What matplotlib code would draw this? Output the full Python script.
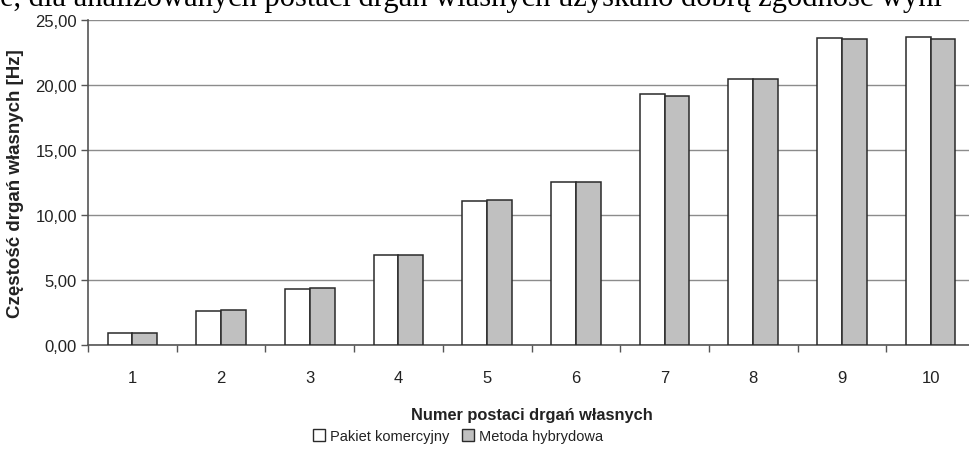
import matplotlib
matplotlib.use("Agg")
import matplotlib.pyplot as plt
from matplotlib.patches import Patch
from matplotlib.ticker import FuncFormatter, MultipleLocator
import numpy as np

# natural frequencies for the first ten mode shapes
modes = ["1", "2", "3", "4", "5", "6", "7", "8", "9", "10"]
pakiet_komercyjny = [0.90, 2.62, 4.32, 6.92, 11.10, 12.52, 19.28, 20.45, 23.64, 23.68]
metoda_hybrydowa = [0.95, 2.68, 4.40, 6.92, 11.17, 12.52, 19.18, 20.45, 23.52, 23.56]

series_names = ["Pakiet komercyjny", "Metoda hybrydowa"]
caption = "e, dla analizowanych postaci drgań własnych uzyskano dobrą zgodność wyni"

plt.rcParams['font.family'] = ['Liberation Sans', 'DejaVu Sans']
text_col = "#222222"

W, H = 970, 452
fig = plt.figure(figsize=(W / 100, H / 100), dpi=100)
ax = fig.add_axes([88 / W, (H - 346) / H, 887 / W, (346 - 21) / H])

x = np.arange(len(modes))
bw = 0.28
ax.bar(x - bw / 2, pakiet_komercyjny, width=bw, color="white",
       edgecolor="#2a2a2a", linewidth=1.1, zorder=3)
ax.bar(x + bw / 2, metoda_hybrydowa, width=bw, color="#c0c0c0",
       edgecolor="#2a2a2a", linewidth=1.1, zorder=3)

ax.set_xlim(-0.5, len(modes) - 0.5)
ax.set_ylim(0, 25)
ax.yaxis.set_major_locator(MultipleLocator(5))
ax.yaxis.set_major_formatter(FuncFormatter(lambda v, p: f"{v:.2f}".replace(".", ",")))
ax.grid(axis="y", color="#8c8c8c", linewidth=1.0, zorder=0)

ax.set_xticks(x)
ax.set_xticklabels(modes)
ax.set_xticks(np.arange(-0.5, len(modes), 1.0), minor=True)
ax.tick_params(axis="x", which="major", length=0, pad=18, labelsize=12, labelcolor=text_col)
ax.tick_params(axis="x", which="minor", length=5, width=1, color="#555555")
ax.tick_params(axis="y", length=5, width=1, color="#555555", pad=3,
               labelsize=12, labelcolor=text_col)

for side in ("top", "right"):
    ax.spines[side].set_visible(False)
for side in ("left", "bottom"):
    ax.spines[side].set_color("#555555")
    ax.spines[side].set_linewidth(1.2)

ax.set_ylabel("Częstość drgań własnych [Hz]", fontsize=13.5, fontweight="bold",
              color=text_col, labelpad=8)
ax.set_xlabel("Numer postaci drgań własnych", fontsize=11.8, fontweight="bold",
              color=text_col, labelpad=16)

handles = [Patch(facecolor="white", edgecolor="#2a2a2a", linewidth=1.0),
           Patch(facecolor="#c0c0c0", edgecolor="#2a2a2a", linewidth=1.0)]
fig.legend(handles, series_names, loc="center", bbox_to_anchor=(458 / W, 1 - 437 / H),
           ncol=2, frameon=False, fontsize=10.5, handlelength=0.8, handleheight=0.8,
           handletextpad=0.35, columnspacing=0.9, labelcolor=text_col)

fig.text(0, 1 - 6 / H, caption, family="Liberation Serif", fontsize=22,
         va="baseline", ha="left", color="black")

fig.savefig("out.png", dpi=100)
